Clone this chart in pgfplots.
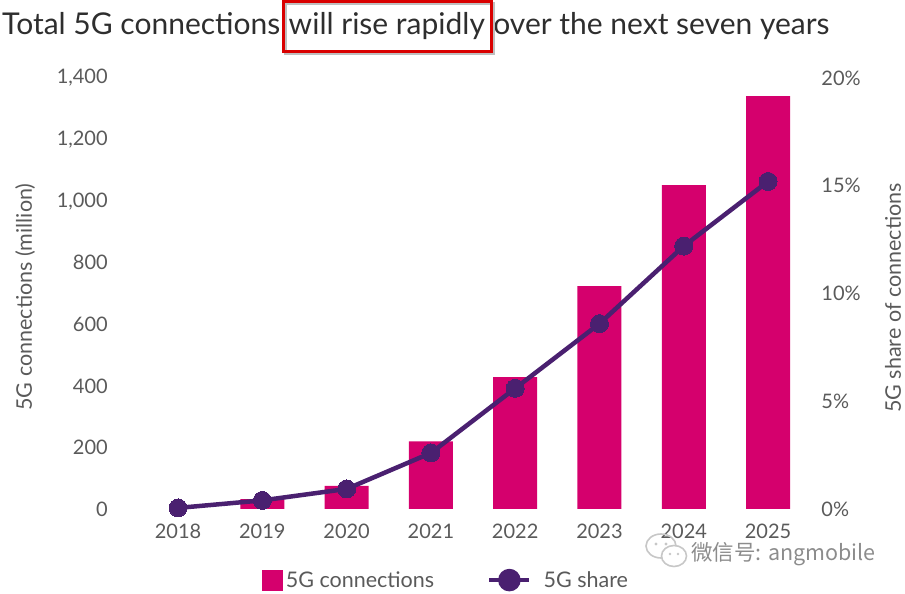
\documentclass[border=0pt]{standalone}
\usepackage{pgfplots}
\pgfplotsset{compat=1.18}
\usepackage{fontspec}
\setmainfont{Lato}
\newfontfamily\cjk{Noto Sans CJK SC}
\definecolor{mag}{HTML}{D5006D}
\definecolor{purp}{HTML}{4A2070}
\definecolor{tickc}{HTML}{5A5A5A}
\definecolor{ttl}{HTML}{2E2E2E}
\definecolor{wm}{HTML}{8C8C8C}
\begin{document}
\begin{tikzpicture}[x=1pt,y=1pt]
\path[use as bounding box] (0,0) rectangle (905,594);
% title
\node[anchor=base west, inner sep=0, text=ttl, font=\fontsize{30}{33}\selectfont] (A) at (2,559) {Total 5G connections};
\node[anchor=base west, inner sep=0, text=ttl, font=\fontsize{30}{33}\selectfont] (B) at ([xshift=8pt]A.base east) {will rise rapidly};
\node[anchor=base west, inner sep=0, text=ttl, font=\fontsize{30}{33}\selectfont] (C) at ([xshift=8pt]B.base east) {over the next seven years};
\draw[black!25, line width=3pt] ([xshift=-3pt]B.west |- 0,540) rectangle ([xshift=8pt]B.east |- 0,590);
\draw[red!85!black, line width=3pt] ([xshift=-5pt]B.west |- 0,542) rectangle ([xshift=6pt]B.east |- 0,592);
\begin{axis}[at={(135.9pt,85pt)}, anchor=south west, scale only axis,
  width=674.3pt, height=431pt,
  xmin=-0.5, xmax=7.5, ymin=0, ymax=1400,
  axis line style={draw=none}, major tick length=0,
  xtick={0,1,2,3,4,5,6,7},
  xticklabels={2018,2019,2020,2021,2022,2023,2024,2025},
  ytick={0,200,400,600,800,1000,1200,1400},
  /pgf/number format/assume math mode=true,
  /pgf/number format/1000 sep={,},
  ticklabel style={font=\fontsize{20}{22}\selectfont, text=tickc, inner sep=0},
  yticklabel style={anchor=east, xshift=-28pt},
  xticklabel style={anchor=north, yshift=-15pt},
  clip=false]
\addplot[ybar, bar width=44pt, fill=mag, draw=none] coordinates {
  (1,32) (2,75) (3,220) (4,428) (5,724) (6,1052) (7,1341)};
\end{axis}
\begin{axis}[at={(135.9pt,85pt)}, anchor=south west, scale only axis,
  width=674.3pt, height=431pt,
  xmin=-0.5, xmax=7.5, ymin=0, ymax=20,
  axis line style={draw=none}, major tick length=0,
  xtick=\empty, ytick={0,5,10,15,20},
  yticklabel pos=right,
  yticklabel={\pgfmathprintnumber{\tick}\%},
  /pgf/number format/assume math mode=true,
  ticklabel style={font=\fontsize{20}{22}\selectfont, text=tickc, inner sep=0},
  yticklabel style={anchor=west, xshift=11pt},
  clip=false,
  legend columns=2,
  legend style={at={(0.461,-0.165)}, anchor=center, draw=none, fill=none,
    font=\fontsize{21.5}{24}\selectfont, text=tickc,
    nodes={inner xsep=3pt},
    /tikz/every even column/.append style={column sep=50pt}},
  legend cell align=left]
\addlegendimage{legend image code/.code={\fill[mag] (0pt,-10pt) rectangle (20pt,10pt);}}
\addlegendentry{5G connections}
\addplot[purp, line width=4.5pt, mark=*, mark size=9pt,
  mark options={fill=purp, draw=purp, line width=0pt},
  legend image code/.code={\draw[purp,line width=4.5pt] (0pt,0pt)--(40pt,0pt); \fill[purp] (20pt,0pt) circle (9pt); \path (49pt,0pt);}]
  coordinates {(0,0.05) (1,0.4) (2,0.93) (3,2.6) (4,5.6) (5,8.6) (6,12.2) (7,15.2)};
\addlegendentry{5G share}
\end{axis}
% axis titles
\node[rotate=90, text=tickc, font=\fontsize{21.5}{24}\selectfont] at (25,297) {5G connections (million)};
\node[rotate=90, text=tickc, font=\fontsize{21.5}{24}\selectfont] at (893,296) {5G share of connections};
% watermark
\draw[black!22, line width=1.6pt] (661,48) ellipse (15 and 12);
\fill[white] (674,38) ellipse (12.5 and 10.5);
\draw[black!22, line width=1.6pt] (674,38) ellipse (12.5 and 10.5);
\fill[black!22] (656,50) circle (1.6) (666,50) circle (1.6) (670,40) circle (1.3) (678,40) circle (1.3);
\node[anchor=west, inner sep=0, text=wm, font=\cjk\fontsize{21.5}{24}\selectfont] at (691,40) {微信号: angmobile};
\end{tikzpicture}
\end{document}
